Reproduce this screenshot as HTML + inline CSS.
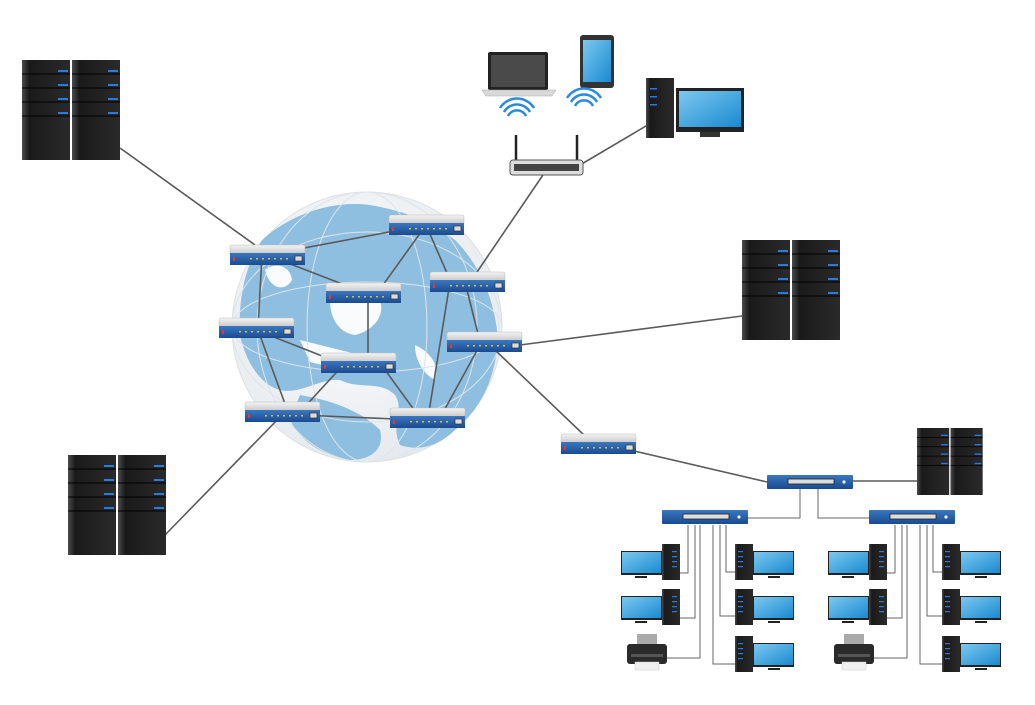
<!DOCTYPE html>
<html><head><meta charset="utf-8"><style>html,body{margin:0;padding:0;background:#fff;width:1035px;height:705px;overflow:hidden}</style></head><body>
<svg width="1035" height="705" viewBox="0 0 1035 705" xmlns="http://www.w3.org/2000/svg">
<defs>
<linearGradient id="tw" x1="0" x2="1"><stop offset="0" stop-color="#4a4a4a"/><stop offset=".15" stop-color="#1a1a1a"/><stop offset="1" stop-color="#2a2a2a"/></linearGradient>
<linearGradient id="bl" x1="0" y1="0" x2="0" y2="1"><stop offset="0" stop-color="#3a78c0"/><stop offset="1" stop-color="#1a4a90"/></linearGradient>
<linearGradient id="gr" x1="0" y1="0" x2="0" y2="1"><stop offset="0" stop-color="#f4f4f4"/><stop offset="1" stop-color="#c8c8c8"/></linearGradient>
<linearGradient id="scr" x1="0" y1="0" x2="1" y2="1"><stop offset="0" stop-color="#7cc8f0"/><stop offset="1" stop-color="#1a8ad0"/></linearGradient>
<radialGradient id="gl" cx=".45" cy=".4" r=".6"><stop offset="0" stop-color="#ffffff"/><stop offset="1" stop-color="#e6eaee"/></radialGradient>
<g id="tower">
<rect x="0" y="0" width="48" height="100" fill="url(#tw)"/>
<g stroke="#000" stroke-width="1"><line x1="0" y1="14" x2="48" y2="14"/><line x1="0" y1="28" x2="48" y2="28"/><line x1="0" y1="42" x2="48" y2="42"/><line x1="0" y1="56" x2="48" y2="56"/></g>
<g fill="#2a7ae0"><rect x="36" y="10" width="10" height="2"/><rect x="36" y="24" width="10" height="2"/><rect x="36" y="38" width="10" height="2"/><rect x="36" y="52" width="10" height="2"/></g>
</g>
<g id="srv"><use href="#tower"/><use href="#tower" x="50"/></g>
<g id="rtr">
<rect x="0" y="0" width="75" height="9" rx="2" fill="url(#gr)" stroke="#bbb" stroke-width=".5"/>
<rect x="0" y="8" width="75" height="12" fill="url(#bl)"/>
<rect x="3" y="12" width="2" height="4" fill="#e33"/>
<g fill="#d8c040"><rect x="20" y="13" width="2" height="1.5"/><rect x="26" y="13" width="2" height="1.5"/><rect x="32" y="13" width="2" height="1.5"/><rect x="38" y="13" width="2" height="1.5"/><rect x="44" y="13" width="2" height="1.5"/><rect x="50" y="13" width="2" height="1.5"/><rect x="56" y="13" width="2" height="1.5"/></g>
<rect x="65" y="11" width="7" height="5" fill="#ddd" stroke="#333" stroke-width=".7"/>
</g>
<g id="sw">
<rect x="0" y="0" width="86" height="14" rx="1" fill="url(#bl)"/>
<rect x="21" y="4" width="46" height="5" fill="#ddd" stroke="#222" stroke-width=".8"/>
<circle cx="77" cy="7" r="1.6" fill="#eee"/>
</g>
<g id="pcR"><!-- tower left, monitor right -->
<rect x="0" y="0" width="18" height="36" fill="url(#tw)"/>
<g fill="#2a7ae0"><rect x="3" y="7" width="5" height="1.2"/><rect x="3" y="12" width="5" height="1.2"/><rect x="3" y="17" width="5" height="1.2"/><rect x="3" y="22" width="5" height="1.2"/></g>
<rect x="18" y="7" width="41" height="24" fill="#222"/><rect x="19" y="8" width="39" height="21" fill="url(#scr)"/>
<rect x="33" y="32" width="12" height="2" fill="#222"/>
</g>
<g id="pcL"><!-- monitor left, tower right -->
<rect x="0" y="7" width="41" height="24" fill="#222"/><rect x="1" y="8" width="39" height="21" fill="url(#scr)"/>
<rect x="14" y="32" width="12" height="2" fill="#222"/>
<rect x="41" y="0" width="18" height="36" fill="url(#tw)"/>
<g fill="#2a7ae0"><rect x="51" y="7" width="5" height="1.2"/><rect x="51" y="12" width="5" height="1.2"/><rect x="51" y="17" width="5" height="1.2"/><rect x="51" y="22" width="5" height="1.2"/></g>
</g>
<g id="prn">
<rect x="10" y="0" width="20" height="10" fill="#aaa"/>
<rect x="0" y="10" width="40" height="20" rx="3" fill="#2a2a2a"/>
<rect x="4" y="20" width="32" height="3" fill="#555"/>
<rect x="8" y="28" width="24" height="8" fill="#f0f0f0" stroke="#ccc" stroke-width=".5"/>
</g>
</defs>

<!-- globe -->
<circle cx="367" cy="327" r="135" fill="url(#gl)" stroke="#e0e0e0"/>
<g fill="#8fbfe0">
<path d="M262,240 C290,215 330,200 370,205 C400,210 430,220 455,240 C480,265 495,300 498,340 C495,380 480,410 455,430 C440,445 420,452 400,445 C390,425 405,410 395,395 C380,380 360,390 340,380 C320,378 300,395 280,390 C260,385 245,360 240,335 C238,300 245,265 262,240 Z"/>
<path d="M300,395 C330,400 360,410 380,430 C385,450 370,460 350,460 C320,455 300,440 290,420 Z"/>
</g>
<g fill="#fff" opacity=".95">
<path d="M330,300 C345,290 370,292 380,300 C385,315 375,330 355,335 C340,333 330,320 330,300 Z"/>
<path d="M300,340 C320,345 340,350 360,355 C350,365 330,368 310,362 Z"/>
<path d="M415,345 C430,352 440,365 435,380 C425,375 415,362 415,345 Z"/>
<path d="M265,270 C275,262 290,265 292,280 C285,292 270,290 265,270 Z"/>
</g>
<g fill="none" stroke="#dde4ea" stroke-width="1">
<ellipse cx="367" cy="327" rx="60" ry="135"/><ellipse cx="367" cy="327" rx="110" ry="135"/>
<ellipse cx="367" cy="327" rx="135" ry="45"/><ellipse cx="367" cy="327" rx="135" ry="95"/>
</g>

<!-- connections -->
<g stroke="#5a5a5a" stroke-width="1.6" fill="none">
<line x1="120" y1="148" x2="255" y2="245"/>
<line x1="165" y1="535" x2="282" y2="415"/>
<line x1="267" y1="255" x2="426" y2="225"/>
<line x1="267" y1="255" x2="363" y2="292"/>
<line x1="426" y1="225" x2="378" y2="292"/>
<line x1="426" y1="225" x2="450" y2="280"/>
<line x1="262" y1="255" x2="258" y2="328"/>
<line x1="450" y1="282" x2="428" y2="418"/>
<line x1="465" y1="282" x2="480" y2="342"/>
<line x1="368" y1="292" x2="368" y2="363"/>
<line x1="256" y1="330" x2="340" y2="363"/>
<line x1="258" y1="330" x2="288" y2="412"/>
<line x1="345" y1="363" x2="300" y2="412"/>
<line x1="380" y1="363" x2="420" y2="418"/>
<line x1="300" y1="415" x2="420" y2="420"/>
<line x1="480" y1="345" x2="440" y2="418"/>
<line x1="520" y1="345" x2="742" y2="316"/>
<line x1="495" y1="350" x2="585" y2="436"/>
<line x1="475" y1="275" x2="545" y2="172"/>
<line x1="580" y1="165" x2="646" y2="126"/>
<line x1="630" y1="450" x2="767" y2="482"/>
<line x1="853" y1="481" x2="917" y2="481"/>
</g>
<g stroke="#666" stroke-width="1" fill="none">
<polyline points="800,489 800,518 748,518"/>
<polyline points="818,489 818,518 869,518"/>
<!-- left group -->
<polyline points="688,525 688,573 680,573"/>
<polyline points="695,525 695,618 680,618"/>
<polyline points="700,525 700,658 665,658"/>
<polyline points="713,525 713,664 735,664"/>
<polyline points="720,525 720,616 735,616"/>
<polyline points="726,525 726,572 735,572"/>
<!-- right group -->
<polyline points="895,525 895,573 887,573"/>
<polyline points="902,525 902,618 887,618"/>
<polyline points="907,525 907,658 872,658"/>
<polyline points="920,525 920,664 942,664"/>
<polyline points="927,525 927,616 942,616"/>
<polyline points="933,525 933,572 942,572"/>
</g>

<!-- servers -->
<use href="#srv" x="22" y="60"/>
<use href="#srv" x="68" y="455"/>
<use href="#srv" x="742" y="240"/>
<use href="#srv" transform="translate(917,428) scale(0.67)"/>

<!-- routers -->
<use href="#rtr" x="230" y="245"/>
<use href="#rtr" x="389" y="215"/>
<use href="#rtr" x="326" y="283"/>
<use href="#rtr" x="430" y="272"/>
<use href="#rtr" x="219" y="318"/>
<use href="#rtr" x="447" y="332"/>
<use href="#rtr" x="321" y="353"/>
<use href="#rtr" x="245" y="402"/>
<use href="#rtr" x="390" y="408"/>
<use href="#rtr" x="561" y="434"/>

<!-- switches -->
<use href="#sw" x="767" y="475"/>
<use href="#sw" x="662" y="510"/>
<use href="#sw" x="869" y="510"/>

<!-- workstations -->
<use href="#pcL" x="621" y="544"/>
<use href="#pcL" x="621" y="589"/>
<use href="#prn" x="627" y="634"/>
<use href="#pcR" x="735" y="544"/>
<use href="#pcR" x="735" y="589"/>
<use href="#pcR" x="735" y="636"/>
<use href="#pcL" x="828" y="544"/>
<use href="#pcL" x="828" y="589"/>
<use href="#prn" x="834" y="634"/>
<use href="#pcR" x="942" y="544"/>
<use href="#pcR" x="942" y="589"/>
<use href="#pcR" x="942" y="636"/>

<!-- top devices -->
<rect x="488" y="52" width="60" height="38" rx="2" fill="#222"/>
<rect x="491" y="55" width="54" height="32" fill="#4a4a4a"/>
<path d="M482,90 L556,90 L552,96 L486,96 Z" fill="#d8d8d8" stroke="#aaa" stroke-width=".5"/>
<rect x="580" y="35" width="34" height="53" rx="3" fill="#333"/>
<rect x="583" y="40" width="28" height="42" fill="url(#scr)"/>
<rect x="646" y="78" width="28" height="60" fill="url(#tw)"/>
<g fill="#2a7ae0"><rect x="650" y="88" width="7" height="1.5"/><rect x="650" y="96" width="7" height="1.5"/><rect x="650" y="104" width="7" height="1.5"/></g>
<rect x="676" y="88" width="68" height="44" fill="#222"/><rect x="679" y="91" width="62" height="36" fill="url(#scr)"/>
<rect x="700" y="132" width="20" height="5" fill="#333"/>
<g fill="none" stroke="#2a8ae0" stroke-width="2.5">
<path d="M508,116 a10,10 0 0 1 18,0"/><path d="M504,112 a15,15 0 0 1 26,0"/><path d="M500,108 a20,20 0 0 1 34,0"/>
<path d="M575,106 a10,10 0 0 1 18,0"/><path d="M571,102 a15,15 0 0 1 26,0"/><path d="M567,98 a20,20 0 0 1 34,0"/>
</g>
<line x1="516" y1="160" x2="516" y2="135" stroke="#222" stroke-width="2.5"/>
<line x1="577" y1="160" x2="577" y2="135" stroke="#222" stroke-width="2.5"/>
<rect x="510" y="160" width="73" height="15" rx="3" fill="#ddd" stroke="#555"/>
<rect x="514" y="164" width="65" height="7" fill="#444"/>
</svg>
</body></html>
